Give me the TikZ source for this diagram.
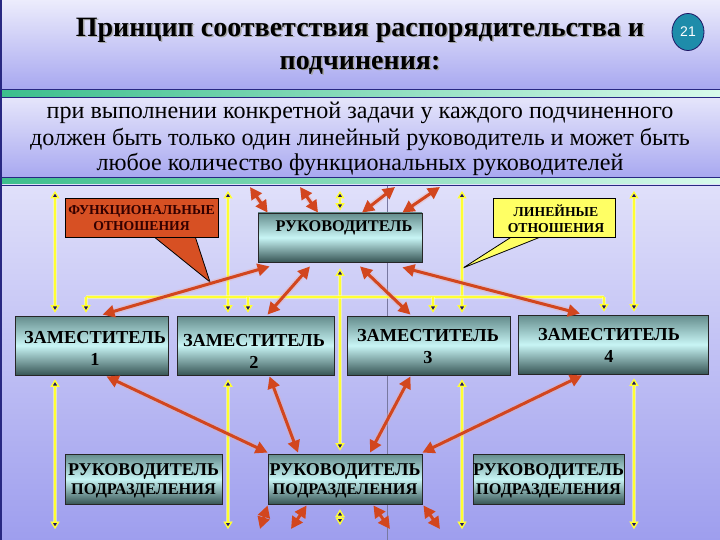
\documentclass[tikz,border=0pt]{standalone}
\usepackage{fontspec}
\setmainfont{Liberation Serif}
\newfontfamily\numsans{Liberation Sans}
\usetikzlibrary{arrows.meta,shapes.geometric,calc}
\definecolor{bgtop}{RGB}{224,224,250}
\definecolor{bgbot}{RGB}{158,158,238}
\definecolor{tband}{RGB}{236,236,252}
\definecolor{tbandb}{RGB}{168,168,240}
\definecolor{navyc}{RGB}{30,20,100}
\definecolor{bandline}{RGB}{40,40,130}
\definecolor{stripL}{RGB}{60,190,140}
\definecolor{stripR}{RGB}{215,250,235}
\definecolor{boxtop}{RGB}{100,140,140}
\definecolor{boxmid}{RGB}{200,245,245}
\definecolor{boxbot}{RGB}{55,85,85}
\definecolor{redc}{RGB}{210,70,30}
\definecolor{redhalo}{RGB}{240,170,160}
\definecolor{yelc}{RGB}{255,255,50}
\definecolor{yelhalo}{RGB}{255,255,170}
\definecolor{funcfill}{RGB}{215,80,35}
\definecolor{linfill}{RGB}{255,255,100}
\definecolor{circfill}{RGB}{30,140,170}
\definecolor{guide}{RGB}{120,120,160}
\tikzset{
  ytip/.tip={Triangle[width=9pt,length=7.5pt,fill=navyc,line width=1.3pt]},
  rtip/.tip={Triangle[width=12pt,length=12pt]},
  yline/.style={draw=yelc, line width=1.8pt,
    preaction={draw=yelhalo, line width=4.5pt, opacity=0.6}},
  ybi/.style={yline, arrows={ytip}-{ytip}},
  ydown/.style={yline, arrows=-{ytip}},
  rarr/.style={draw=redc, line width=3pt, arrows={rtip}-{rtip},
    preaction={draw=redhalo, line width=6pt, opacity=0.35}},
  box/.style={draw=black!85, line width=0.8pt, top color=boxtop,
    bottom color=boxbot, middle color=boxmid, inner sep=0pt},
  ztxt/.style={font=\rmfamily\bfseries\fontsize{18.3}{22}\selectfont, align=center, inner sep=0pt},
  ctxt/.style={font=\rmfamily\bfseries\fontsize{13.7}{16}\selectfont, align=center, inner sep=0pt},
  titletxt/.style={font=\rmfamily\bfseries\fontsize{28}{30}\selectfont, inner sep=0pt},
  subtxt/.style={font=\rmfamily\fontsize{24.1}{26}\selectfont, inner sep=0pt},
}
\begin{document}
\begin{tikzpicture}[x=1pt,y=-1pt]
\useasboundingbox (0,0) rectangle (720,540);
% bands
\fill[top color=tband, bottom color=tbandb] (0,0) rectangle (720,89);
\fill[left color=stripL, right color=stripR] (0,90) rectangle (720,97.5);
\fill[top color=tband!90!tbandb, bottom color=tbandb] (0,97.5) rectangle (720,177.5);
\fill[left color=stripL, right color=stripR] (0,177.5) rectangle (720,185);
\fill[top color=bgtop, bottom color=bgbot] (0,185) rectangle (720,540);
\draw[bandline, line width=1.2pt] (0,89.5) -- (720,89.5);
\draw[bandline, line width=0.8pt] (0,97.5) -- (720,97.5);
\draw[bandline, line width=0.8pt] (0,177.5) -- (720,177.5);
\draw[bandline, line width=0.8pt] (0,185) -- (720,185);
\draw[bandline, line width=2pt] (1,0) -- (1,540);
% title
\node[titletxt, text=black!35] (t1s) at (361.5,31.5) {Принцип соответствия распорядительства и};
\node[titletxt] (t1) at (360,30) {Принцип соответствия распорядительства и};
\node[titletxt, text=black!35] (t2s) at (361.5,66.5) {подчинения:};
\node[titletxt] (t2) at (360,65) {подчинения:};
\node[ellipse, draw=navyc, line width=0.8pt, fill=circfill, minimum width=32pt, minimum height=37pt, inner sep=0pt] (num) at (688,32) {\numsans\fontsize{14}{16}\selectfont\color{white}21};
% subtitle
\node[subtxt] (s1) at (360,113) {при выполнении конкретной задачи у каждого подчиненного};
\node[subtxt] (s2) at (360,139) {должен быть только один линейный руководитель и может быть};
\node[subtxt] (s3) at (360,164) {любое количество функциональных руководителей};
% guide line
\draw[guide, line width=0.5pt] (387,186) -- (387,540);
% boxes
\node[box, minimum width=164pt, minimum height=49pt] (ruk) at (340,237.5) {};
\node[box, minimum width=153pt, minimum height=59pt] (z1) at (91.5,345.5) {};
\node[box, minimum width=157pt, minimum height=59pt] (z2) at (255.5,345.5) {};
\node[box, minimum width=163pt, minimum height=59pt] (z3) at (428.5,345.5) {};
\node[box, minimum width=190pt, minimum height=59pt] (z4) at (613,344.5) {};
\node[box, minimum width=157pt, minimum height=50pt] (p1) at (143.5,479) {};
\node[box, minimum width=154pt, minimum height=50pt] (p2) at (345,479) {};
\node[box, minimum width=151pt, minimum height=50pt] (p3) at (548.5,479) {};
% callouts
\filldraw[fill=funcfill, draw=black, line width=0.8pt] (153,236) -- (210,282) -- (195,236) -- cycle;
\node[draw=black, line width=0.8pt, fill=funcfill, minimum width=153pt, minimum height=39pt, inner sep=0pt] (func) at (141.5,217.5) {};
\filldraw[fill=linfill, draw=black, line width=0.8pt] (513,236) -- (463,268) -- (543,236) -- cycle;
\node[draw=black, line width=0.8pt, fill=linfill, minimum width=122pt, minimum height=39pt, inner sep=0pt] (lin) at (554,217.5) {};
\node[ctxt, text=black!80!red] (funct) at (141.5,218.5) {ФУНКЦИОНАЛЬНЫЕ\\ОТНОШЕНИЯ};
\node[ctxt] (lint) at (556,219) {ЛИНЕЙНЫЕ\\ОТНОШЕНИЯ};
% yellow lines
\foreach \xx/\bx in {55/z1,228/z2,462/z3,634/z4} {
  \draw[ybi] (\xx,191) -- ($(\xx,0 |- \bx.north)+(0,-3)$);
  \draw[ybi] ($(\xx,0 |- \bx.south)+(0,4)$) -- (\xx,529);
}
\draw[ybi] (340,191) -- ($(ruk.north)+(0,-2)$);
\draw[ybi] ($(ruk.south)+(0,6)$) -- ($(340,0 |- p2.north)+(0,-3)$);
\draw[ybi] ($(340,0 |- p2.south)+(0,5)$) -- (340,525);
\draw[yline] (86,297) -- (604,297);
\foreach \xx/\bx in {86/z1,248/z2,433/z3,604/z4}
  \draw[ydown] (\xx,297) -- ($(\xx,0 |- \bx.north)+(0,-3)$);
% red arrows
\draw[rarr] (250,187) -- ($(ruk.north west)+(10,0)$);
\draw[rarr] (300,187) -- ($(ruk.north)+(-22,0)$);
\draw[rarr] (395,187) -- ($(ruk.north)+(22,0)$);
\draw[rarr] (440,187) -- ($(ruk.north east)+(-20,0)$);
\draw[rarr] ($(ruk.south west)+(12,4)$) -- ($(z1.north)+(11,-1)$);
\draw[rarr] ($(ruk.south)+(-30,4)$) -- ($(z2.north)+(12,-1)$);
\draw[rarr] ($(ruk.south)+(20,4)$) -- ($(z3.north)+(-18,-1)$);
\draw[rarr] ($(ruk.south east)+(-20,5)$) -- ($(z4.north)+(-33,-1)$);
\draw[rarr] ($(z1.south)+(15,1)$) -- ($(p2.north west)+(0,-1)$);
\draw[rarr] ($(z2.south)+(14,1)$) -- ($(p2.north)+(-47,-1)$);
\draw[rarr] ($(z3.south)+(-18,1)$) -- ($(p2.north)+(25,-1)$);
\draw[rarr] ($(z4.south)+(-31,1)$) -- ($(p2.north east)+(0,-1)$);
\draw[rarr] ($(p2.south west)+(0,1)$) -- (260,529);
\draw[rarr] ($(p2.south west)+(39,1)$) -- (291,529);
\draw[rarr] ($(p2.south east)+(-49,1)$) -- (390,529);
\draw[rarr] ($(p2.south east)+(1,1)$) -- (440,529);
% box texts
\node[font=\rmfamily\bfseries\fontsize{16.3}{20}\selectfont, inner sep=0pt] (rukt) at (344,228) {РУКОВОДИТЕЛЬ};
\node[ztxt] (z1t) at (95,348) {ЗАМЕСТИТЕЛЬ\\1};
\node[ztxt] (z2t) at (254,351) {ЗАМЕСТИТЕЛЬ\\2};
\node[ztxt] (z3t) at (428,347) {ЗАМЕСТИТЕЛЬ\\3};
\node[ztxt] (z4t) at (609,345) {ЗАМЕСТИТЕЛЬ\\4};
\foreach \p/\xx in {p1/143.5,p2/345,p3/548.5} {
  \node[font=\rmfamily\bfseries\fontsize{18}{20}\selectfont, inner sep=0pt] (\p a) at (\xx,471) {РУКОВОДИТЕЛЬ};
  \node[font=\rmfamily\bfseries\fontsize{16.3}{18}\selectfont, inner sep=0pt] (\p b) at (\xx,491) {ПОДРАЗДЕЛЕНИЯ};
}
\end{tikzpicture}
\end{document}
